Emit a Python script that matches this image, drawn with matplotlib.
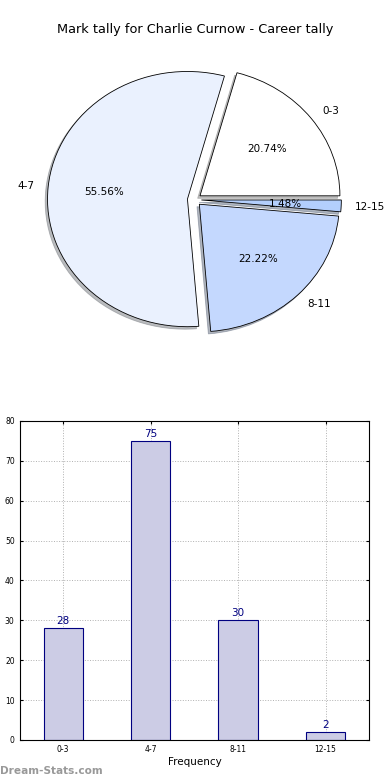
import matplotlib
matplotlib.use("Agg")
import matplotlib.pyplot as plt
import numpy as np

# data
categories = ["0-3", "4-7", "8-11", "12-15"]
counts = [28, 75, 30, 2]
pie_colors = ["#ffffff", "#eaf1fe", "#c4d8fe", "#b3cffd"]
title = "Mark tally for Charlie Curnow - Career tally"

fig = plt.figure(figsize=(3.9, 7.8), dpi=100)

# pie (top)
ax1 = fig.add_axes([0.05, 0.5395, 0.897, 0.409])
wedges, texts, autotexts = ax1.pie(
    counts, labels=categories, colors=pie_colors, explode=[0.05] * 4,
    autopct="%.2f%%", shadow={"ox": -0.012, "oy": -0.014, "shade": 0.5},
    startangle=0, labeldistance=1.1, pctdistance=0.6,
    wedgeprops={"edgecolor": "black", "linewidth": 0.6},
    textprops={"fontsize": 7.5})
ax1.set_aspect("auto")
ax1.set_xlim(-1.25, 1.25); ax1.set_ylim(-1.25, 1.25)
ax1.axis("off")
fig.text(0.5, 0.962, title, ha="center", va="center", fontsize=9.3)

# bars (bottom)
ax2 = fig.add_axes([0.05, 0.0513, 0.897, 0.409])
x = np.arange(len(categories))
ax2.bar(x, counts, width=0.45, color="#ccccE5", edgecolor="#000080", lw=0.8, zorder=2)
for xi, v in zip(x, counts):
    ax2.text(xi, v + 0.6, str(v), ha="center", va="bottom", color="#000080", fontsize=7.5)
ax2.set_xlim(-0.5, 3.5); ax2.set_ylim(0, 80)
ax2.set_xticks(x); ax2.set_xticklabels(categories)
ax2.set_yticks(range(0, 81, 10))
ax2.tick_params(labelsize=5.5, length=2, direction="in", top=True, right=True)
ax2.grid(True, ls=":", color="#b0b0b0", lw=0.7, zorder=0)
ax2.set_xlabel("Frequency", fontsize=7.5, labelpad=2)

fig.text(0.0, 0.012, "Dream-Stats.com", fontsize=7.6, color="#999999", fontweight="bold",
         ha="left", va="center")

fig.savefig("out.png", dpi=100)
